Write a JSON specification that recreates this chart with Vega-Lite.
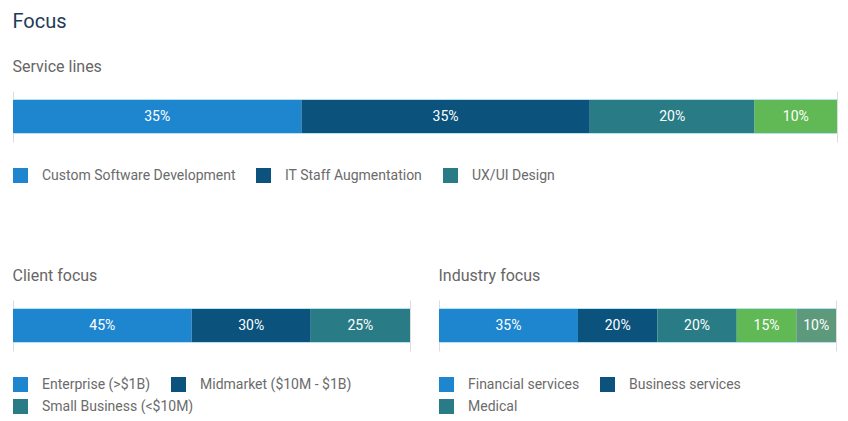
{
  "$schema": "https://vega.github.io/schema/vega-lite/v6.json",
  "background": "white",
  "padding": {"left": 12, "top": 12, "right": 12, "bottom": 0},
  "title": {"text": "Focus", "anchor": "start", "fontSize": 20, "font": "Roboto", "fontWeight": "normal", "color": "#1f3b5a", "offset": 27},
  "config": {
    "view": {"stroke": null},
    "font": "Roboto",
    "title": {"fontSize": 16, "font": "Roboto", "fontWeight": "normal", "color": "#666666", "anchor": "start", "offset": 16},
    "legend": {"symbolType": "square", "symbolSize": 225, "symbolStrokeWidth": 0, "symbolOpacity": 1, "labelFont": "Roboto", "labelFontSize": 14, "labelColor": "#6b6b6b", "labelOffset": 14, "columnPadding": 20, "rowPadding": 7, "labelLimit": 400, "orient": "bottom", "direction": "horizontal", "offset": 26, "title": null},
    "axisX": {"labels": false, "title": null, "grid": true, "gridColor": "#dcdcdc", "domain": false, "ticks": false},
    "axisY": {"disable": true}
  },
  "datasets": {
    "service": [
      {"row": "a", "cat": "Custom Software Development", "v": 0.35, "ord": 1},
      {"row": "a", "cat": "IT Staff Augmentation", "v": 0.35, "ord": 2},
      {"row": "a", "cat": "UX/UI Design", "v": 0.20, "ord": 3},
      {"row": "a", "cat": "Other", "v": 0.10, "ord": 4}
    ],
    "client": [
      {"row": "a", "cat": "Enterprise (>$1B)", "v": 0.45, "ord": 1},
      {"row": "a", "cat": "Midmarket ($10M - $1B)", "v": 0.30, "ord": 2},
      {"row": "a", "cat": "Small Business (<$10M)", "v": 0.25, "ord": 3}
    ],
    "industry": [
      {"row": "a", "cat": "Financial services", "v": 0.35, "ord": 1},
      {"row": "a", "cat": "Business services", "v": 0.20, "ord": 2},
      {"row": "a", "cat": "Medical", "v": 0.20, "ord": 3},
      {"row": "a", "cat": "Other industry A", "v": 0.15, "ord": 4},
      {"row": "a", "cat": "Other industry B", "v": 0.10, "ord": 5}
    ]
  },
  "vconcat": [
    {
      "title": "Service lines",
      "width": 824,
      "height": 51,
      "data": {"name": "service"},
      "encoding": {
        "y": {"field": "row", "type": "nominal", "scale": {"paddingInner": 0, "paddingOuter": 0.25}, "axis": null}
      },
      "layer": [
        {
          "mark": {"type": "bar"},
          "encoding": {
            "x": {"field": "v", "type": "quantitative", "stack": "zero", "scale": {"domain": [0, 1], "nice": false}, "axis": {"values": [0, 1]}},
            "order": {"field": "ord"},
            "color": {"field": "cat", "type": "nominal", "scale": {"domain": ["Custom Software Development", "IT Staff Augmentation", "UX/UI Design", "Other"], "range": ["#1e86cf", "#0b527c", "#297b85", "#61b955"]}, "legend": {"values": ["Custom Software Development", "IT Staff Augmentation", "UX/UI Design"]}}
          }
        },
        {
          "mark": {"type": "rule", "color": "#b3e2f5", "yOffset": -17},
          "encoding": {"x": {"datum": 0, "type": "quantitative", "axis": {"values": [0, 1]}}, "x2": {"datum": 1}}
        },
        {
          "mark": {"type": "rule", "color": "#b3e2f5", "yOffset": 17},
          "encoding": {"x": {"datum": 0, "type": "quantitative", "axis": {"values": [0, 1]}}, "x2": {"datum": 1}}
        },
        {
          "mark": {"type": "text", "color": "white", "fontSize": 14, "fontWeight": "normal", "font": "Roboto"},
          "encoding": {
            "x": {"field": "v", "type": "quantitative", "stack": "zero", "bandPosition": 0.5, "axis": {"values": [0, 1]}},
            "order": {"field": "ord"},
            "text": {"field": "v", "type": "quantitative", "format": ".0%"}
          }
        }
      ]
    },
    {
      "spacing": 27,
      "hconcat": [
        {
          "title": "Client focus",
          "width": 397,
          "height": 51,
          "data": {"name": "client"},
          "encoding": {
            "y": {"field": "row", "type": "nominal", "scale": {"paddingInner": 0, "paddingOuter": 0.25}, "axis": null}
          },
          "layer": [
            {
              "transform": [{"filter": {"field": "cat", "equal": "Small Business (<$10M)"}}],
              "mark": {"type": "bar"},
              "encoding": {
                "x": {"field": "v", "type": "quantitative", "stack": "zero", "scale": {"domain": [0, 1], "nice": false}, "axis": {"values": [0, 1]}},
                "order": {"field": "ord"},
                "fill": {"field": "cat", "type": "nominal", "scale": {"domain": ["Small Business (<$10M)"], "range": ["#297b85"]}, "legend": {"orient": "none", "legendX": 0, "legendY": 99, "direction": "horizontal"}}
              }
            },
            {
              "mark": {"type": "bar"},
              "encoding": {
                "x": {"field": "v", "type": "quantitative", "stack": "zero", "scale": {"domain": [0, 1], "nice": false}, "axis": {"values": [0, 1]}},
                "order": {"field": "ord"},
                "color": {"field": "cat", "type": "nominal", "scale": {"domain": ["Enterprise (>$1B)", "Midmarket ($10M - $1B)", "Small Business (<$10M)"], "range": ["#1e86cf", "#0b527c", "#297b85"]}, "legend": {"orient": "none", "legendX": 0, "legendY": 77, "direction": "horizontal", "values": ["Enterprise (>$1B)", "Midmarket ($10M - $1B)"]}}
              }
            },
            {
              "mark": {"type": "rule", "color": "#b3e2f5", "yOffset": -17},
              "encoding": {"x": {"datum": 0, "type": "quantitative", "axis": {"values": [0, 1]}}, "x2": {"datum": 1}}
            },
            {
              "mark": {"type": "rule", "color": "#b3e2f5", "yOffset": 17},
              "encoding": {"x": {"datum": 0, "type": "quantitative", "axis": {"values": [0, 1]}}, "x2": {"datum": 1}}
            },
            {
              "mark": {"type": "text", "color": "white", "fontSize": 14, "fontWeight": "normal", "font": "Roboto"},
              "encoding": {
                "x": {"field": "v", "type": "quantitative", "stack": "zero", "bandPosition": 0.5, "axis": {"values": [0, 1]}},
                "order": {"field": "ord"},
                "text": {"field": "v", "type": "quantitative", "format": ".0%"}
              }
            }
          ],
          "resolve": {"scale": {"fill": "independent", "color": "independent"}}
        },
        {
          "title": "Industry focus",
          "width": 397,
          "height": 51,
          "data": {"name": "industry"},
          "encoding": {
            "y": {"field": "row", "type": "nominal", "scale": {"paddingInner": 0, "paddingOuter": 0.25}, "axis": null}
          },
          "layer": [
            {
              "mark": {"type": "bar"},
              "encoding": {
                "x": {"field": "v", "type": "quantitative", "stack": "zero", "scale": {"domain": [0, 1], "nice": false}, "axis": {"values": [0, 1]}},
                "order": {"field": "ord"},
                "color": {"field": "cat", "type": "nominal", "scale": {"domain": ["Financial services", "Business services", "Medical", "Other industry A", "Other industry B"], "range": ["#1e86cf", "#0b527c", "#297b85", "#61b955", "#5d9a7c"]}, "legend": {"columns": 2, "values": ["Financial services", "Business services", "Medical"]}}
              }
            },
            {
              "mark": {"type": "rule", "color": "#b3e2f5", "yOffset": -17},
              "encoding": {"x": {"datum": 0, "type": "quantitative", "axis": {"values": [0, 1]}}, "x2": {"datum": 1}}
            },
            {
              "mark": {"type": "rule", "color": "#b3e2f5", "yOffset": 17},
              "encoding": {"x": {"datum": 0, "type": "quantitative", "axis": {"values": [0, 1]}}, "x2": {"datum": 1}}
            },
            {
              "mark": {"type": "text", "color": "white", "fontSize": 14, "fontWeight": "normal", "font": "Roboto"},
              "encoding": {
                "x": {"field": "v", "type": "quantitative", "stack": "zero", "bandPosition": 0.5, "axis": {"values": [0, 1]}},
                "order": {"field": "ord"},
                "text": {"field": "v", "type": "quantitative", "format": ".0%"}
              }
            }
          ]
        }
      ],
      "resolve": {"scale": {"color": "independent", "fill": "independent"}, "legend": {"color": "independent", "fill": "independent"}}
    }
  ],
  "resolve": {"scale": {"color": "independent", "fill": "independent"}, "legend": {"color": "independent", "fill": "independent"}},
  "spacing": 85
}
